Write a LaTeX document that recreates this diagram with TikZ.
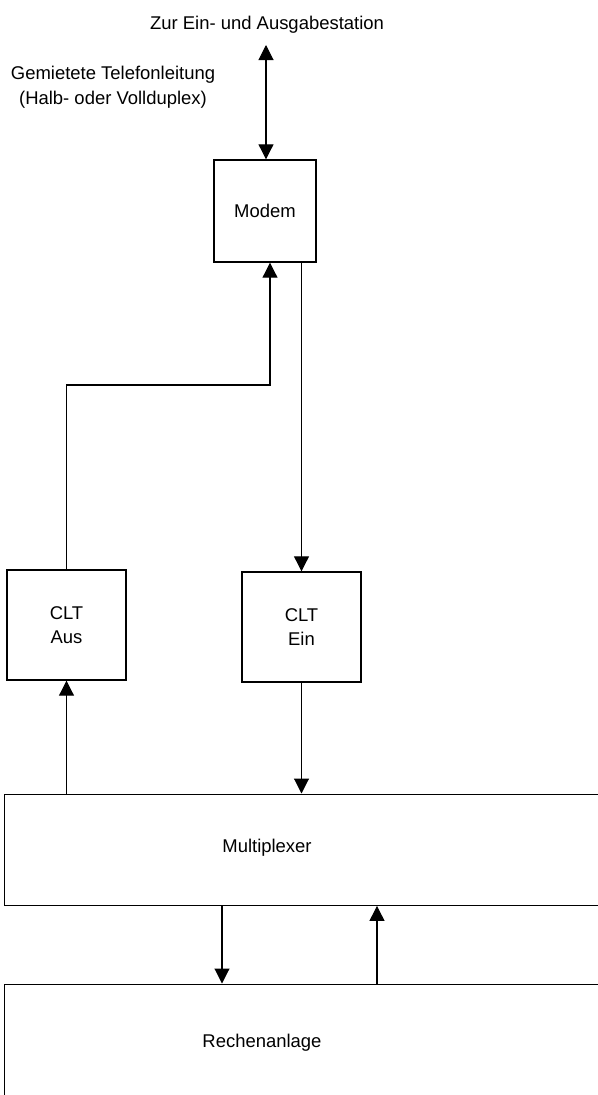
\documentclass[tikz,border=0pt]{standalone}
\usepackage{fontspec}
\setmainfont{Liberation Sans}
\usepackage{tikz}
\usetikzlibrary{arrows.meta,positioning}
\tikzstyle{block} = [rectangle, draw, line width=0.8pt, inner sep=0pt, align=center]
\tikzstyle{wide} = [block, anchor=north west, minimum width=14cm, minimum height=2.22cm]
\tikzstyle{arrow} = [line width=0.6pt, -{Triangle[width=0.3cm,length=0.3cm]}]

\begin{document}
\begin{tikzpicture}[font=\fontsize{10.5}{14}\selectfont]
\clip (0,0) rectangle (11.96,-21.9);
\useasboundingbox (0,0) rectangle (11.96,-21.9);

% upper blocks
\node[block, minimum width=2.04cm, minimum height=2.04cm] (modem) at (5.3,-4.22) {Modem};
\node[block, minimum width=2.38cm, minimum height=2.2cm] (aus) at (1.33,-12.5) {CLT\\Aus};
\node[block, minimum width=2.38cm, minimum height=2.2cm] (ein) at (6.03,-12.54) {CLT\\Ein};

% wide blocks, open to the right
\node[wide] (mux) at (0.08,-15.87) {};
\node (muxtext) at (5.34,-16.96) {Multiplexer};
\node[wide] (rech) at (0.08,-19.67) {};
\node (rechtext) at (5.24,-20.86) {Rechenanlage};

% texts
\node (station) at (5.34,-0.5) {Zur Ein- und Ausgabestation};
\node[align=center] (leitung) at (2.26,-1.74) {Gemietete Telefonleitung\\(Halb- oder Vollduplex)};
\coordinate (top) at (5.32,-0.9);
\coordinate (bend) at (5.4,-7.7);
\coordinate (down) at (4.44,0);
\coordinate (up) at (7.54,0);

% connectors
\draw[arrow, {Triangle[width=0.3cm,length=0.3cm]}-{Triangle[width=0.3cm,length=0.3cm]}] (top) -- (top |- modem.north);
\draw[arrow] (aus.north) |- (bend) -- (bend |- modem.south);
\draw[arrow] (modem.south -| ein.north) -- (ein.north);
\draw[arrow] (ein.south) -- (ein.south |- mux.north);
\draw[arrow] (mux.north -| aus.south) -- (aus.south);
\draw[arrow] (mux.south -| down) -- (rech.north -| down);
\draw[arrow] (rech.north -| up) -- (mux.south -| up);
\end{tikzpicture}
\end{document}
